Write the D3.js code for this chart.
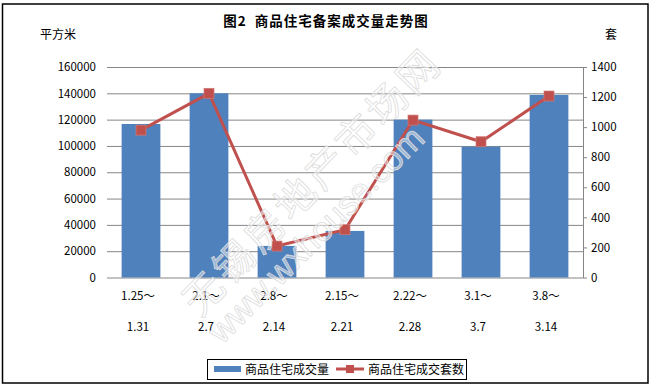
<!DOCTYPE html>
<html>
<head>
<meta charset="utf-8">
<script src="https://cdn.jsdelivr.net/npm/d3@7"></script>
<style>
  body { margin: 0; background: #fff; }
  svg { display: block; font-family: "Noto Sans CJK SC", sans-serif; }
</style>
</head>
<body>
<svg width="650" height="388"></svg>
<script>
const periodStart = ["1.25～", "2.1～", "2.8～", "2.15～", "2.22～", "3.1～", "3.8～"];
const periodEnd = ["1.31", "2.7", "2.14", "2.21", "2.28", "3.7", "3.14"];
const areaSold = [116700, 140000, 24000, 35400, 120000, 99500, 138800];
const unitsSold = [980, 1225, 209, 318, 1047, 903, 1207];
const leftTicks = [0, 20000, 40000, 60000, 80000, 100000, 120000, 140000, 160000];
const rightTicks = [0, 200, 400, 600, 800, 1000, 1200, 1400];

const svg = d3.select("svg");
const blue = "#4F81BD", red = "#C0504D", grid = "#868686";
const plotL = 107, plotR = 583, plotT = 67, plotB = 277.5;

const x = d3.scaleBand().domain(d3.range(periodStart.length))
    .range([plotL, plotR]).paddingInner(0.43).paddingOuter(0.215);
const yL = d3.scaleLinear().domain([0, 160000]).range([plotB, plotT]);
const yR = d3.scaleLinear().domain([0, 1400]).range([plotB, plotT]);

// frame
svg.append("rect").attr("x", 2.5).attr("y", 4).attr("width", 645.5).attr("height", 379)
    .attr("fill", "#fff").attr("stroke", "#000").attr("stroke-width", 1.5);

// title + unit labels
svg.append("text").attr("x", 326).attr("y", 26).attr("text-anchor", "middle")
    .style("font-size", "13.5px").style("font-weight", "bold").style("letter-spacing", "1px")
    .style("white-space", "pre")
    .text("图2  商品住宅备案成交量走势图");
svg.append("text").attr("x", 40).attr("y", 39).style("font-size", "12px").text("平方米");
svg.append("text").attr("x", 605).attr("y", 39).style("font-size", "12px").text("套");

// left axis: gridlines + labels, no domain line
const gL = svg.append("g").attr("transform", `translate(${plotL},0)`)
    .call(d3.axisLeft(yL).tickValues(leftTicks).tickFormat(d3.format("d"))
        .tickSize(-(plotR - plotL)).tickPadding(11));
gL.select(".domain").remove();
gL.selectAll("line").attr("stroke", grid).attr("stroke-width", 1);
gL.selectAll("text").style("font-size", "11.5px").style("font-family", "'Noto Sans CJK SC'").attr("fill", "#000");

// right axis
const gR = svg.append("g").attr("transform", `translate(${plotR},0)`)
    .call(d3.axisRight(yR).tickValues(rightTicks).tickFormat(d3.format("d"))
        .tickSize(4).tickSizeOuter(0).tickPadding(4));
gR.select(".domain").attr("stroke", grid);
gR.selectAll("line").attr("stroke", grid);
gR.selectAll("text").style("font-size", "11.5px").style("font-family", "'Noto Sans CJK SC'").attr("fill", "#000");

// bars
svg.append("g").selectAll("rect").data(areaSold).join("rect")
    .attr("x", (d, i) => x(i)).attr("width", x.bandwidth())
    .attr("y", d => yL(d)).attr("height", d => plotB - yL(d))
    .attr("fill", blue);

// category labels (two lines)
const cx = i => x(i) + x.bandwidth() / 2 - 3;
svg.append("g").selectAll("text").data(periodStart).join("text")
    .attr("x", (d, i) => cx(i)).attr("y", 300).attr("text-anchor", "middle")
    .style("font-size", "11.5px").text(d => d);
svg.append("g").selectAll("text").data(periodEnd).join("text")
    .attr("x", (d, i) => cx(i)).attr("y", 331).attr("text-anchor", "middle")
    .style("font-size", "11.5px").text(d => d);

// line + markers
const line = d3.line().x((d, i) => x(i) + x.bandwidth() / 2).y(d => yR(d));
svg.append("path").datum(unitsSold).attr("d", line)
    .attr("fill", "none").attr("stroke", red).attr("stroke-width", 3);
svg.append("g").selectAll("rect").data(unitsSold).join("rect")
    .attr("x", (d, i) => x(i) + x.bandwidth() / 2 - 5).attr("y", d => yR(d) - 5)
    .attr("width", 10).attr("height", 10)
    .attr("fill", red).attr("stroke", "#d27a77").attr("stroke-width", 0.7);

// watermark
const wm = svg.append("g").style("pointer-events", "none");
wm.append("text").attr("transform", "translate(200,318) rotate(-46)")
    .style("font-size", "40px").style("letter-spacing", "4px")
    .attr("fill", "rgba(255,255,255,0.45)").attr("stroke", "#dcdcdc").attr("stroke-width", 0.8)
    .text("无锡房地产市场网");
wm.append("text").attr("transform", "translate(222,345) rotate(-45)")
    .style("font-size", "34px").style("font-family", "'Liberation Sans'")
    .attr("fill", "rgba(255,255,255,0.45)").attr("stroke", "#dcdcdc").attr("stroke-width", 0.8)
    .text("www.wxhouse.com");

// legend
const lg = svg.append("g");
lg.append("rect").attr("x", 207.5).attr("y", 359.5).attr("width", 259).attr("height", 20)
    .attr("fill", "#fff").attr("stroke", "#000").attr("stroke-width", 1);
lg.append("rect").attr("x", 214).attr("y", 366).attr("width", 27).attr("height", 6).attr("fill", blue);
lg.append("text").attr("x", 245).attr("y", 374).style("font-size", "12px").text("商品住宅成交量");
lg.append("line").attr("x1", 336).attr("x2", 364).attr("y1", 369).attr("y2", 369)
    .attr("stroke", red).attr("stroke-width", 3);
lg.append("rect").attr("x", 346).attr("y", 365).attr("width", 8).attr("height", 8).attr("fill", red);
lg.append("text").attr("x", 368).attr("y", 374).style("font-size", "12px").text("商品住宅成交套数");
</script>
</body>
</html>
